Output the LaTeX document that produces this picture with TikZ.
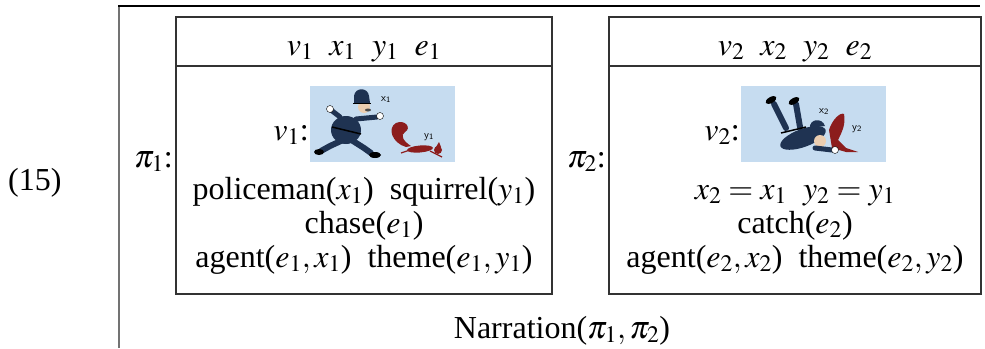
\documentclass[tikz,border=0pt]{standalone}
\usepackage{mathptmx}
\usepackage{fontspec}
\setmainfont{Liberation Serif}
\usepackage{tikz}
\definecolor{picblue}{HTML}{C6DCF0}
\definecolor{copblue}{HTML}{1F3352}
\definecolor{furred}{HTML}{8C1D1D}
\definecolor{skin}{HTML}{EBCDB0}
\begin{document}
\begin{tikzpicture}[x=1pt,y=-1pt,
    txt/.style={anchor=base,inner sep=0pt,font=\fontsize{32}{38}\selectfont},
    lbl/.style={anchor=base east,inner sep=0pt,font=\fontsize{32}{38}\selectfont},
    tag/.style={anchor=base,inner sep=0pt,font=\sffamily\fontsize{11}{12}\selectfont},
    frame/.style={draw=black!80,line width=1.1pt},
    limb/.style={copblue,line width=5pt,line cap=round}]
    \useasboundingbox (0,0) rectangle (985,348);

    \draw[black!55,line width=2pt] (119,348) -- (119,6);
    \draw[black,line width=1.1pt] (118,6) -- (980,6);

    \draw[frame] (176,17) rectangle (552,294);
    \draw[frame] (176,66) -- (552,66);
    \draw[frame] (609,17) rectangle (981,294);
    \draw[frame] (609,66) -- (981,66);

    \node[txt,anchor=base west] (num) at (8,190) {(15)};
    \node[lbl] (piA) at (173,167) {$\pi_1$:};
    \node[lbl] (piB) at (606,167) {$\pi_2$:};

    \node[txt] (hdA) at (364,55) {$v_1\ \ x_1\ \ y_1\ \ e_1$};
    \node[lbl] (vA) at (309,140) {$v_1$:};
    \node[txt] (lA1) at (364,199) {policeman($x_1$)\ \ squirrel($y_1$)};
    \node[txt] (lA2) at (364,233) {chase($e_1$)};
    \node[txt] (lA3) at (364,267) {agent($e_1,x_1$)\ \ theme($e_1,y_1$)};

    \node[txt] (hdB) at (795,55) {$v_2\ \ x_2\ \ y_2\ \ e_2$};
    \node[lbl] (vB) at (740,140) {$v_2$:};
    \node[txt] (lB1) at (795,199) {$x_2=x_1\ \ y_2=y_1$};
    \node[txt] (lB2) at (795,233) {catch($e_2$)};
    \node[txt] (lB3) at (795,267) {agent($e_2,x_2$)\ \ theme($e_2,y_2$)};

    \node[txt] (narr) at (562,338) {Narration($\pi_1,\pi_2$)};

    % chase picture
    \fill[picblue] (310,86) rectangle (455,162);
    \draw[limb,line width=6pt] (343,140) -- (330,146) -- (321,151);
    \draw[limb,line width=6pt] (353,141) -- (364,148) -- (371,153);
    \fill[black] (319,152) ellipse (5 and 3);
    \fill[black] (375,155) ellipse (6 and 3);
    \fill[copblue] (346,130) ellipse (15 and 14);
    \draw[black,line width=1.5pt] (332,127) -- (361,134);
    \draw[limb] (340,117) -- (331,110);
    \draw[limb] (356,119) -- (377,117);
    \filldraw[fill=white,draw=black,line width=0.4pt] (330,109) circle (3.5);
    \filldraw[fill=white,draw=black,line width=0.4pt] (380,116) circle (3.5);
    \fill[skin] (364,107) circle (6);
    \fill[black!70] (368,110) ellipse (3 and 1.5);
    \fill[copblue] (354,103) -- (354,96) .. controls (355,87) and (368,87) .. (369,96) -- (370,103) -- cycle;
    \draw[black,line width=1pt] (353,103) -- (371,103);
    \fill[furred] (406,147) .. controls (392,143) and (387,128) .. (396,123) .. controls (405,119) and (412,128) .. (405,132) .. controls (400,135) and (403,141) .. (411,146) -- cycle;
    \fill[furred,rotate around={5:(420,149)}] (420,149) ellipse (13 and 3.5);
    \fill[furred] (438,150) circle (4);
    \fill[furred] (436,147) -- (439,142) -- (441,147) -- cycle;
    \draw[furred,line width=1.2pt] (410,150) -- (401,153);
    \draw[furred,line width=1.2pt] (430,151) -- (442,157);
    \node[tag] (tx1) at (386,101) {x\textsubscript{1}};
    \node[tag] (ty1) at (429,138) {y\textsubscript{1}};

    % catch picture
    \fill[picblue] (741,86) rectangle (886,162);
    \draw[limb,line width=6pt] (774,104) -- (786,128);
    \draw[limb,line width=6pt] (796,104) -- (800,127);
    \fill[black,rotate around={30:(771,100)}] (771,100) ellipse (6 and 3);
    \fill[black,rotate around={30:(794,101)}] (794,101) ellipse (6 and 3);
    \fill[copblue,rotate around={20:(803,138)}] (803,138) ellipse (24 and 9);
    \draw[black,line width=1.5pt] (781,133) -- (806,127);
    \fill[skin] (820,141) circle (6);
    \draw[limb] (815,148) -- (832,150);
    \fill[copblue] (810,128) .. controls (809,119) and (822,117) .. (825,126) -- cycle;
    \fill[furred] (829,130) .. controls (832,120) and (840,112) .. (844,114) .. controls (846,124) and (842,132) .. (838,140) -- (846,148) -- (858,152) -- (846,152) -- (832,148) -- cycle;
    \filldraw[fill=white,draw=black,line width=0.4pt] (835,150) circle (3.5);
    \node[tag] (tx2) at (824,113) {x\textsubscript{2}};
    \node[tag] (ty2) at (857,130) {y\textsubscript{2}};
\end{tikzpicture}
\end{document}
